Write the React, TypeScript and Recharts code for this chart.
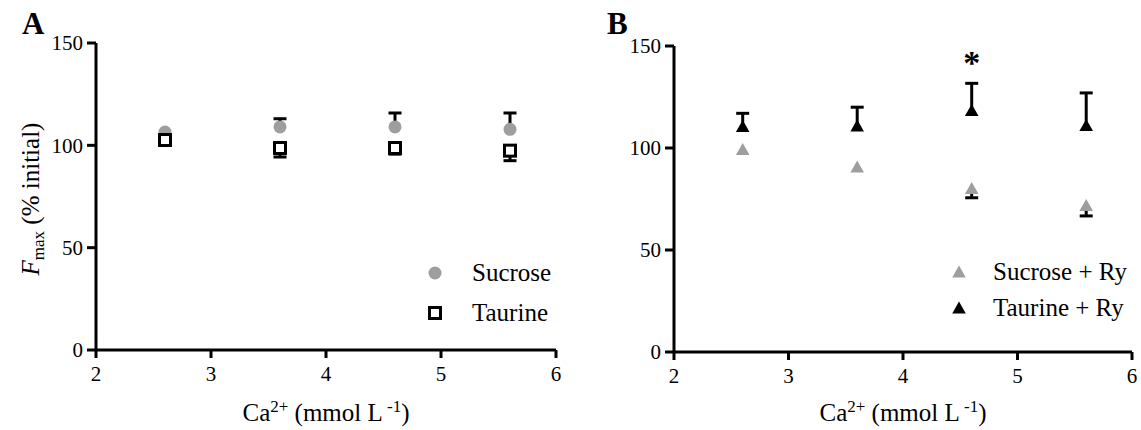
import React from 'react';
import {
  ScatterChart,
  Scatter,
  XAxis,
  YAxis,
  ErrorBar,
  Legend,
  Label,
} from 'recharts';

// Ca2+ concentrations (mmol/L)
const CA = [2.6, 3.6, 4.6, 5.6];
const X_TICKS = [2, 3, 4, 5, 6];
const Y_TICKS = [0, 50, 100, 150];

// panel A
const SUCROSE = [106.5, 109, 109, 107.8];
const SUCROSE_SEM = [0, 4, 6.8, 8]; // drawn upward
const TAURINE = [102.6, 98.7, 98.7, 97.4];
const TAURINE_SEM = [0, 4.4, 3, 4.9]; // drawn downward

// panel B
const SUCROSE_RY = [99.3, 90.7, 80.1, 71.8];
const SUCROSE_RY_SEM = [0, 0, 4.5, 5.1]; // downward
const TAURINE_RY = [110.5, 110.8, 118.4, 111];
const TAURINE_RY_SEM = [6.5, 9.2, 13.3, 16]; // upward

const SIG_X = [4.6];
const SIG_Y = [144.7];

const GRAY = '#9e9e9e';
const FONT = "'Liberation Serif', 'Times New Roman', Times, serif";

const pts = (vals: number[]) => CA.map((x, i) => ({ x, y: vals[i] }));
// one-sided SEM: a point sits at the cap, its ErrorBar runs back to the mean
const capsUp = (vals: number[], sem: number[]) =>
  CA.map((x, i) => ({ x, y: vals[i] + sem[i], err: [sem[i], 0] })).filter((_, i) => sem[i] > 0);
const capsDown = (vals: number[], sem: number[]) =>
  CA.map((x, i) => ({ x, y: vals[i] - sem[i], err: [0, sem[i]] })).filter((_, i) => sem[i] > 0);

const dataSig = SIG_X.map((x, i) => ({ x, y: SIG_Y[i] }));

type Marker = 'circle' | 'square' | 'triGray' | 'triBlack';

function markerSvg(kind: Marker, cx: number, cy: number) {
  if (kind === 'circle') return <circle cx={cx} cy={cy} r={6.5} fill={GRAY} />;
  if (kind === 'square')
    return (
      <rect x={cx - 5.5} y={cy - 5.5} width={11} height={11} fill="#fff" stroke="#000" strokeWidth={3} />
    );
  const fill = kind === 'triGray' ? GRAY : '#000';
  return (
    <path d={`M${cx},${cy - 6.5} L${cx + 6.8},${cy + 5.5} L${cx - 6.8},${cy + 5.5} Z`} fill={fill} />
  );
}

const shapeOf = (kind: Marker) => (p: any) => markerSvg(kind, p.cx, p.cy);
const Cap = (p: any) => <line x1={p.cx - 6.5} x2={p.cx + 6.5} y1={p.cy} y2={p.cy} stroke="#000" strokeWidth={3} />;

const MARKERS: Record<string, Marker> = {
  Sucrose: 'circle',
  Taurine: 'square',
  'Sucrose + Ry': 'triGray',
  'Taurine + Ry': 'triBlack',
};

function LegendBox({ payload, rowH, gap, pos }: any) {
  const items = (payload || []).filter((p: any) => MARKERS[p.value]);
  return (
    <div
      style={{
        position: 'absolute',
        left: pos.left,
        top: pos.top,
        fontFamily: FONT,
        fontSize: 25,
        color: '#000',
        whiteSpace: 'nowrap',
      }}
    >
      {items.map((p: any) => (
        <div key={p.value} style={{ display: 'flex', alignItems: 'center', height: rowH }}>
          <svg width={16} height={16} style={{ marginRight: gap }}>
            {markerSvg(MARKERS[p.value], 8, 8)}
          </svg>
          <span>{p.value}</span>
        </div>
      ))}
    </div>
  );
}

function XTitle({ viewBox }: any) {
  const cx = viewBox.x + viewBox.width / 2;
  return (
    <text x={cx} y={421} textAnchor="middle" fontSize={25} fontFamily={FONT} fill="#000">
      Ca
      <tspan dy={-9} fontSize={17}>2+</tspan>
      <tspan dy={9}> (mmol L</tspan>
      <tspan dy={-9} fontSize={17}> -1</tspan>
      <tspan dy={9}>)</tspan>
    </text>
  );
}

function YTitle() {
  return (
    <text
      x={39}
      y={199}
      transform="rotate(-90, 39, 199)"
      textAnchor="middle"
      fontSize={25}
      fontFamily={FONT}
      fill="#000"
    >
      <tspan fontStyle="italic">F</tspan>
      <tspan dy={5} fontSize={17}>max</tspan>
      <tspan dy={-5}> (% initial)</tspan>
    </text>
  );
}

function Asterisk(p: any) {
  return (
    <text x={p.cx} y={p.cy + 17} textAnchor="middle" fontSize={34} fontWeight="bold" fontFamily={FONT} fill="#000">
      *
    </text>
  );
}

const axisLine = { stroke: '#000', strokeWidth: 3 };
const tickStyle = { fill: '#000', fontSize: 21, fontFamily: FONT };

function Panel({ width, margin, yWidth, xHeight, legendPos, rowH, gap, yTitle, children }: any) {
  return (
    <ScatterChart width={width} height={430} margin={margin}>
      <XAxis
        type="number"
        dataKey="x"
        domain={[2, 6]}
        ticks={X_TICKS}
        height={xHeight}
        axisLine={axisLine}
        tickLine={axisLine}
        tickSize={8}
        tickMargin={8}
        tick={tickStyle}
        fontSize={21}
        allowDataOverflow
      >
        <Label content={<XTitle />} />
      </XAxis>
      <YAxis
        type="number"
        dataKey="y"
        domain={[0, 150]}
        ticks={Y_TICKS}
        width={yWidth}
        axisLine={axisLine}
        tickLine={axisLine}
        tickSize={9}
        tickMargin={4}
        tick={tickStyle}
        fontSize={21}
        allowDataOverflow
      >
        {yTitle ? <Label content={<YTitle />} /> : null}
      </YAxis>
      <Legend
        layout="vertical"
        align="center"
        verticalAlign="middle"
        wrapperStyle={{ left: 0, top: 0, width: 0, height: 0 }}
        content={<LegendBox rowH={rowH} gap={gap} pos={legendPos} />}
      />
      {children}
    </ScatterChart>
  );
}

const stem = <ErrorBar dataKey="err" direction="y" width={0} stroke="#000" strokeWidth={3} />;

export default function App() {
  return (
    <div
      style={{
        position: 'absolute',
        left: 0,
        top: 0,
        width: 1141,
        height: 430,
        background: '#fff',
        fontFamily: FONT,
      }}
    >
      <div style={{ position: 'absolute', left: 22, top: 6, fontSize: 31, fontWeight: 'bold' }}>A</div>
      <div style={{ position: 'absolute', left: 607, top: 6, fontSize: 31, fontWeight: 'bold' }}>B</div>

      <div style={{ position: 'absolute', left: 0, top: 0 }}>
        <Panel
          width={580}
          margin={{ top: 43, right: 24, bottom: 0, left: 0 }}
          yWidth={96}
          xHeight={80}
          legendPos={{ left: 427, top: 253 }}
          rowH={40}
          gap={29}
          yTitle
        >
          <Scatter data={capsUp(SUCROSE, SUCROSE_SEM)} shape={Cap} legendType="none" isAnimationActive={false}>
            {stem}
          </Scatter>
          <Scatter data={capsDown(TAURINE, TAURINE_SEM)} shape={Cap} legendType="none" isAnimationActive={false}>
            {stem}
          </Scatter>
          <Scatter name="Sucrose" data={pts(SUCROSE)} shape={shapeOf('circle')} isAnimationActive={false} />
          <Scatter name="Taurine" data={pts(TAURINE)} shape={shapeOf('square')} isAnimationActive={false} />
        </Panel>
      </div>

      <div style={{ position: 'absolute', left: 580, top: 0 }}>
        <Panel
          width={561}
          margin={{ top: 46, right: 9, bottom: 0, left: 0 }}
          yWidth={94}
          xHeight={78}
          legendPos={{ left: 371, top: 254 }}
          rowH={36}
          gap={26}
        >
          <Scatter data={capsDown(SUCROSE_RY, SUCROSE_RY_SEM)} shape={Cap} legendType="none" isAnimationActive={false}>
            {stem}
          </Scatter>
          <Scatter data={capsUp(TAURINE_RY, TAURINE_RY_SEM)} shape={Cap} legendType="none" isAnimationActive={false}>
            {stem}
          </Scatter>
          <Scatter name="Sucrose + Ry" data={pts(SUCROSE_RY)} shape={shapeOf('triGray')} isAnimationActive={false} />
          <Scatter name="Taurine + Ry" data={pts(TAURINE_RY)} shape={shapeOf('triBlack')} isAnimationActive={false} />
          <Scatter name="sig" data={dataSig} shape={Asterisk} legendType="none" isAnimationActive={false} />
        </Panel>
      </div>
    </div>
  );
}
